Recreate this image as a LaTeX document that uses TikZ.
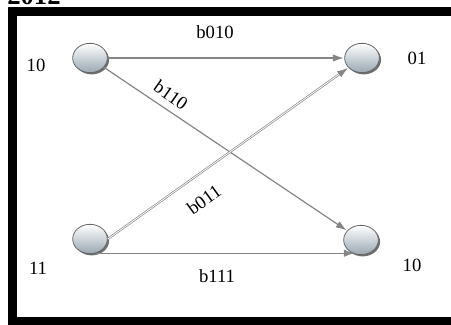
\documentclass[tikz,border=0pt]{standalone}
\usepackage{fontspec}
\setmainfont{Liberation Serif}
\usetikzlibrary{shapes.geometric,shadows,arrows.meta}
\definecolor{statebottom}{HTML}{9AA7B2}
\definecolor{edgegray}{HTML}{858585}
\begin{document}
\begin{tikzpicture}[x=0.75pt,y=-0.75pt,
  state/.style={ellipse, draw=black!60, line width=0.6pt,
    minimum width=26pt, minimum height=22pt, inner sep=0pt,
    top color=white, bottom color=statebottom,
    drop shadow={shadow xshift=1.3pt, shadow yshift=-1.3pt, opacity=0.75, fill=black!75}},
  edge/.style={draw=edgegray, line width=0.9pt,
    -{Latex[length=8pt,width=5.5pt,fill=edgegray]}, shorten >=0.5pt},
  dedge/.style={edge, double=white, double distance=0.6pt, line width=0.5pt},
  lbl/.style={font=\fontsize{14}{16}\selectfont, inner sep=0pt},
  frameline/.style={line width=6.75pt, draw=black}]
\useasboundingbox (0,0) rectangle (451,325);
\clip (0,0) rectangle (451,325);

% year heading, mostly above the page edge
\node[anchor=base west, inner sep=0pt, font=\fontsize{20}{22}\selectfont\bfseries] (year) at (7,4) {2012};

% outer frame
\draw[frameline] (12.5,11.5) rectangle (480,321.5);

% states
\node[state] (a) at (90,58) {};
\node[state] (b) at (362,58) {};
\node[state] (c) at (90,239) {};
\node[state] (d) at (361,240) {};

% state names
\node[lbl] (la) at (36,65) {10};
\node[lbl] (lb) at (417,58) {01};
\node[lbl] (lc) at (38,268) {11};
\node[lbl] (ld) at (412,265) {10};

% transitions
\draw[edge] (a) -- (b);
\draw[edge] (a) -- (d);
\draw[dedge] (c.east) -- (b);
\draw[edge] (c.-68) -- (c.-68 -| d.-112);

% transition labels
\node[lbl] (t1) at (215,32) {b010};
\node[lbl, rotate=-35] (t2) at (171,95) {b110};
\node[lbl, rotate=36] (t3) at (204,200) {b011};
\node[lbl] (t4) at (217,276) {b111};
\end{tikzpicture}
\end{document}
